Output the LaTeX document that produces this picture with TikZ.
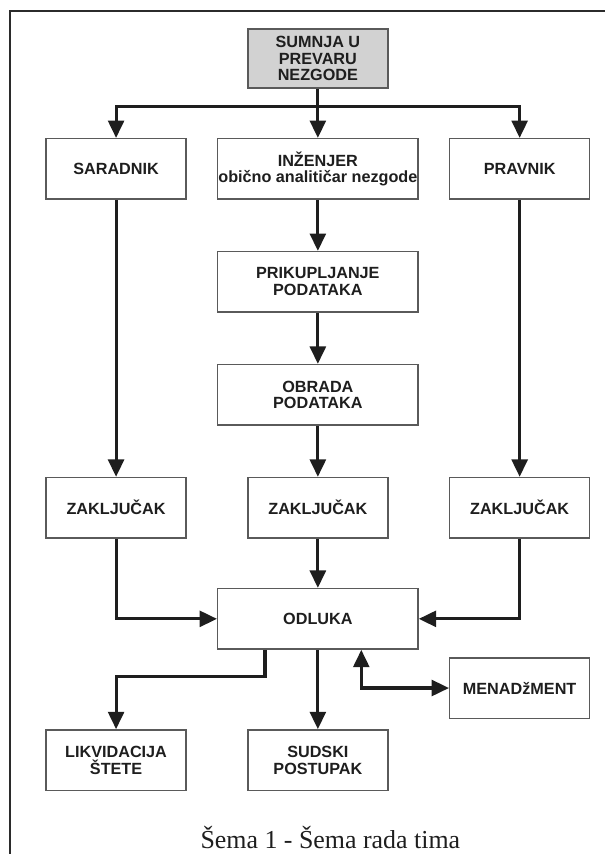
\documentclass[tikz,border=0pt]{standalone}
\usepackage{fontspec}
\setsansfont{Liberation Sans}
\setmainfont{Liberation Serif}
\usetikzlibrary{arrows.meta,positioning,calc}
\definecolor{ink}{HTML}{1E1E1E}
\definecolor{frameink}{HTML}{2B2B2B}
\definecolor{edge}{HTML}{5A5A5A}
\definecolor{shade}{HTML}{D2D2D2}
\tikzset{
  box/.style={draw=edge, line width=1.1pt, fill=white, minimum width=#1, minimum height=16mm, inner sep=0.5pt, align=center, font=\sffamily\bfseries\fontsize{12.2pt}{12.6pt}\selectfont, text=ink},
  box/.default=37mm,
  arr/.style={-{Triangle[length=4.6mm,width=4.2mm]}, line width=2.3pt, draw=ink},
  dblarr/.style={{Triangle[length=4.6mm,width=4.2mm]}-{Triangle[length=4.6mm,width=4.2mm]}, line width=2.3pt, draw=ink}
}
\begin{document}
\begin{tikzpicture}[node distance=13.5mm]
  \useasboundingbox (0,0) rectangle (160.07mm,-225.95mm);
  \draw[frameink, line width=1.9pt] (2.65mm,-225.95mm) -- (2.65mm,-2.9mm) -- (160.07mm,-2.9mm);

  \node[box, fill=shade, minimum height=15.6mm] (sumnja) at (84.1mm,-15.5mm) {SUMNJA U\\PREVARU\\NEZGODE};
  \node[box=53mm, below=13mm of sumnja] (inz) {INŽENJER\\obično analitičar nezgode};
  \node[box, left=8mm of inz] (sar) {SARADNIK};
  \node[box, right=8mm of inz] (prav) {PRAVNIK};
  \node[box=53mm, below=of inz] (prik) {PRIKUPLJANJE\\PODATAKA};
  \node[box=53mm, below=of prik] (obr) {OBRADA\\PODATAKA};
  \node[box, below=of obr] (zakM) {ZAKLJUČAK};
  \node[box] (zakL) at (sar |- zakM) {ZAKLJUČAK};
  \node[box] (zakR) at (prav |- zakM) {ZAKLJUČAK};
  \node[box=53mm, below=13mm of zakM] (odl) {ODLUKA};
  \node[box, below=21mm of odl] (sud) {SUDSKI\\POSTUPAK};
  \node[box] (lik) at (sar |- sud) {LIKVIDACIJA\\ŠTETE};
  \node[box] (men) at ($(prav |- odl)+(0,-18.3mm)$) {MENADžMENT};

  \draw[arr] (sumnja) -- (inz);
  \draw[arr] (sumnja.south) -- ++(0,-4.8mm) coordinate (bus) -| (sar);
  \draw[arr] (bus) -| (prav);
  \draw[arr] (sar) -- (zakL);
  \draw[arr] (prav) -- (zakR);
  \draw[arr] (inz) -- (prik);
  \draw[arr] (prik) -- (obr);
  \draw[arr] (obr) -- (zakM);
  \draw[arr] (zakM) -- (odl);
  \draw[arr] (zakL) |- (odl);
  \draw[arr] (zakR) |- (odl);
  \draw[arr] ($(odl.south west)+(12.7mm,0)$) -- ++(0,-7.1mm) -| (lik);
  \draw[arr] (odl) -- (sud);
  \draw[dblarr] ($(odl.south east)+(-15.2mm,0)$) |- (men);

  \node[font=\fontsize{19.5pt}{22pt}\selectfont, text=ink, anchor=base] (caption) at (87.4mm,-224.4mm) {Šema 1 - Šema rada tima};
\end{tikzpicture}
\end{document}
